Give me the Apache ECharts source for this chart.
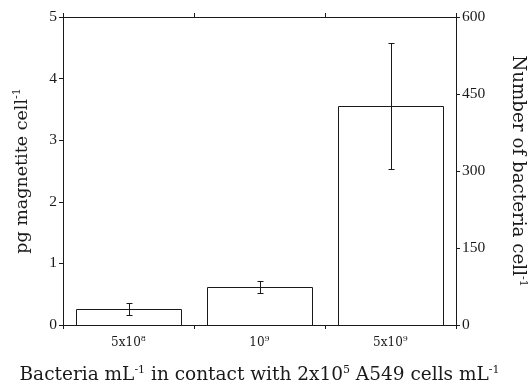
<!DOCTYPE html>
<html>
<head>
<meta charset="utf-8">
<script src="https://cdn.jsdelivr.net/npm/echarts@6/dist/echarts.min.js"></script>
<style>
  html, body { margin: 0; padding: 0; background: #fff; }
  #chart { width: 530px; height: 387px; }
</style>
</head>
<body>
<div id="chart"></div>
<script>
// Bacteria concentrations shown on the category axis ("mantissa^exponent")
const categories = ['5x10^8', '10^9', '5x10^9'];
// Magnetite per cell (pg) and its standard deviation
const magnetite = [0.265, 0.62, 3.55];
const magnetiteErr = [0.1, 0.1, 1.02];
// Axis ticks
const leftTicks = { min: 0, max: 5, interval: 1 };
const rightTicks = { min: 0, max: 600, interval: 150 };

const FONT = 'DejaVu Serif';
const NUM_FONT = 'Liberation Serif';
const INK = '#1a1a1a';
const BAR_FRACTION = 0.8;

function catLabel(s) {
  // "5x10^8" -> rich text with superscript exponent
  const parts = s.split('^');
  return '{b|' + parts[0] + '}{s|' + parts[1] + '}';
}

const supRich = {
  b: { fontFamily: FONT, fontSize: 12, color: INK },
  s: { fontFamily: FONT, fontSize: 8, color: INK, verticalAlign: 'bottom', padding: [0, 0, 8, 0] }
};
function titleRich(size) {
  return {
    b: { fontFamily: FONT, fontSize: size, color: INK },
    s: { fontFamily: FONT, fontSize: Math.round(size * 0.62), color: INK, verticalAlign: 'bottom', padding: [0, 0, Math.round(size * 0.52), 0] }
  };
}

// snap to pixel centres so 1px strokes stay crisp
const px = v => Math.round(v) + 0.5;

const barData = magnetite.map((v, i) => [i, v]);
const errData = categories.map((c, i) => [i, magnetite[i] - magnetiteErr[i], magnetite[i] + magnetiteErr[i]]);

const axisLine = { show: true, onZero: false, lineStyle: { color: INK, width: 1 } };
const tickLabel = { fontFamily: NUM_FONT, fontSize: 15.5, color: INK, margin: 6 };

const chart = echarts.init(document.getElementById('chart'), null, { renderer: 'canvas' });
chart.setOption({
  animation: false,
  backgroundColor: '#fff',
  grid: { left: 63, right: 74, top: 17, bottom: 62, containLabel: false, outerBoundsMode: 'none' },
  xAxis: [
    {
      type: 'category',
      data: categories,
      position: 'bottom',
      axisLine: axisLine,
      axisTick: { show: true, inside: false, length: 4, lineStyle: { color: INK } },
      axisLabel: {
        margin: 10,
        formatter: v => catLabel(v),
        rich: supRich
      },
      name: '{b|Bacteria mL}{s|-1}{b| in contact with 2x10}{s|5}{b| A549 cells mL}{s|-1}',
      nameLocation: 'middle',
      nameGap: 40,
      nameTextStyle: { rich: titleRich(18.5) }
    },
    {
      type: 'category',
      data: categories,
      position: 'top',
      axisLine: axisLine,
      axisTick: { show: true, inside: false, length: 4, lineStyle: { color: INK } },
      axisLabel: { show: false }
    }
  ],
  yAxis: [
    {
      type: 'value',
      min: leftTicks.min, max: leftTicks.max, interval: leftTicks.interval,
      position: 'left',
      axisLine: axisLine,
      axisTick: { show: true, length: 4, lineStyle: { color: INK } },
      splitLine: { show: false },
      axisLabel: tickLabel,
      name: '{b|pg magnetite cell}{s|-1}',
      nameLocation: 'middle',
      nameGap: 31,
      nameTextStyle: { rich: titleRich(17.5) }
    },
    {
      type: 'value',
      min: rightTicks.min, max: rightTicks.max, interval: rightTicks.interval,
      position: 'right',
      axisLine: axisLine,
      axisTick: { show: true, length: 4, lineStyle: { color: INK } },
      splitLine: { show: false },
      axisLabel: tickLabel,
      name: '{b|Number of bacteria cell}{s|-1}',
      nameLocation: 'middle',
      nameRotate: -90,
      nameGap: 51,
      nameTextStyle: { rich: titleRich(18.3) }
    }
  ],
  series: [
    {
      // open-bottom white bars, outlined on three sides
      type: 'custom',
      xAxisIndex: 0,
      yAxisIndex: 0,
      data: barData,
      encode: { x: 0, y: 1 },
      z: 2,
      renderItem: function (params, api) {
        const i = api.value(0);
        const top = api.coord([i, api.value(1)]);
        const base = api.coord([i, 0]);
        const half = api.size([1, 0])[0] * BAR_FRACTION / 2;
        const x0 = px(top[0] - half), x1 = px(top[0] + half);
        const y0 = px(top[1]), y1 = Math.round(base[1]);
        return {
          type: 'group',
          children: [
            { type: 'rect', shape: { x: x0, y: y0, width: x1 - x0, height: y1 - y0 }, style: { fill: '#fff' } },
            { type: 'polyline', shape: { points: [[x0, y1], [x0, y0], [x1, y0], [x1, y1]] },
              style: { stroke: INK, lineWidth: 1, fill: null } }
          ]
        };
      }
    },
    {
      type: 'custom',
      xAxisIndex: 0,
      yAxisIndex: 0,
      data: errData,
      encode: { x: 0, y: [1, 2] },
      z: 3,
      renderItem: function (params, api) {
        const x = api.value(0);
        const lo = api.coord([x, api.value(1)]);
        const hi = api.coord([x, api.value(2)]);
        const cx = px(lo[0]), yl = px(lo[1]), yh = px(hi[1]);
        const cap = 3;
        const style = { stroke: INK, lineWidth: 1 };
        return {
          type: 'group',
          children: [
            { type: 'line', shape: { x1: cx, y1: yh, x2: cx, y2: yl }, style: style },
            { type: 'line', shape: { x1: cx - cap, y1: yh, x2: cx + cap, y2: yh }, style: style },
            { type: 'line', shape: { x1: cx - cap, y1: yl, x2: cx + cap, y2: yl }, style: style }
          ]
        };
      }
    }
  ]
});
</script>
</body>
</html>
